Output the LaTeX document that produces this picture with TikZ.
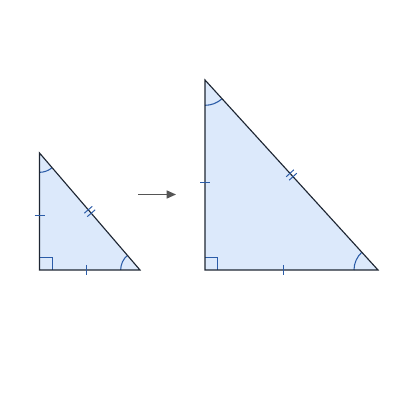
\documentclass[tikz,border=0pt]{standalone}
\usetikzlibrary{arrows.meta,calc,angles}
\definecolor{fillc}{HTML}{DCE9FB}
\definecolor{edgec}{HTML}{1E2633}
\definecolor{markc}{HTML}{2B5CA8}
\definecolor{arrc}{HTML}{555555}
\newcommand{\stick}[3]{% point, direction-target, half length (pt)
  \draw[mk] ($(#1)!#3!90:(#2)$) -- ($(#1)!#3!-90:(#2)$);}
\newcommand{\dtick}[2]{%
  \coordinate (mm) at ($(#1)!0.5!(#2)$);
  \coordinate (p1) at ($(mm)!1.7pt!(#2)$);
  \coordinate (p2) at ($(mm)!-1.7pt!(#2)$);
  \draw[mk] ($(p1)!3.9pt!90:(#2)$) -- ($(p1)!3.9pt!-90:(#2)$);
  \draw[mk] ($(p2)!3.9pt!90:(#2)$) -- ($(p2)!3.9pt!-90:(#2)$);}
\begin{document}
\begin{tikzpicture}[x=0.75pt,y=0.75pt,
  tri/.style={draw=edgec, line width=0.85pt, line join=miter},
  trifill/.style={fill=fillc},
  mk/.style={draw=markc, line width=0.75pt},
  angmk/.style={draw=markc, line width=0.8pt}]
\useasboundingbox (0,0) rectangle (400,400);
% small triangle
\coordinate (A1) at (39.5,247);
\coordinate (B1) at (39.5,130);
\coordinate (C1) at (140,130);
\fill[trifill] (A1) -- (B1) -- (C1) -- cycle;
\draw[mk] ($(B1)+(12.5,0)$) -- ++(0,12.5) -- ++(-12.5,0);
\pic[angmk, angle radius=14.5pt] {angle = B1--A1--C1};
\pic[angmk, angle radius=14.5pt] {angle = A1--C1--B1};
\draw[tri] (A1) -- (B1) -- (C1) -- cycle;
\coordinate (t1) at (39.5,184);
\coordinate (t2) at (86.7,130);
\stick{t1}{A1}{3.75pt}
\stick{t2}{C1}{3.75pt}
\dtick{A1}{C1}
% large triangle
\coordinate (A2) at (205,320);
\coordinate (B2) at (205,130);
\coordinate (C2) at (378,130);
\fill[trifill] (A2) -- (B2) -- (C2) -- cycle;
\draw[mk] ($(B2)+(12.5,0)$) -- ++(0,12.5) -- ++(-12.5,0);
\pic[angmk, angle radius=19pt] {angle = B2--A2--C2};
\pic[angmk, angle radius=18pt] {angle = A2--C2--B2};
\draw[tri] (A2) -- (B2) -- (C2) -- cycle;
\coordinate (t3) at (205,217);
\coordinate (t4) at (283,130);
\stick{t3}{A2}{3.75pt}
\stick{t4}{C2}{3.75pt}
\dtick{A2}{C2}
% arrow
\coordinate (ar1) at (138,205.5);
\coordinate (ar2) at (176,205.5);
\draw[arrc, line width=1.1pt, -{Triangle[length=7pt,width=6pt]}] (ar1) -- (ar2);
\end{tikzpicture}
\end{document}
